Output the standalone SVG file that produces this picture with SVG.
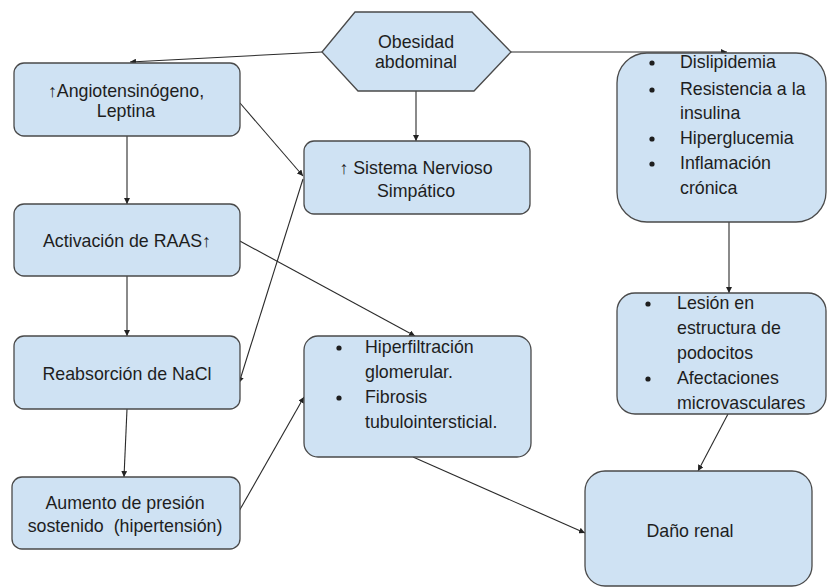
<svg xmlns="http://www.w3.org/2000/svg" width="827" height="588" viewBox="0 0 827 588">
  <defs>
    <marker id="ah" viewBox="0 0 10 10" refX="10" refY="5" markerWidth="6" markerHeight="6" markerUnits="userSpaceOnUse" orient="auto">
      <path d="M0,0 L10,5 L0,10 z" fill="#222"/>
    </marker>
    <style>
      .box { fill: #cfe2f3; stroke: #4a4a4a; stroke-width: 1.3; }
      .t { font-family: "Liberation Sans", Arial, sans-serif; font-size: 17.8px; fill: #1e1e1e; }
      .c { text-anchor: middle; }
      .b { fill: #1e1e1e; }
      .cn line { stroke: #2a2a2a; stroke-width: 1.1; marker-end: url(#ah); }
    </style>
  </defs>
  <rect width="827" height="588" fill="#ffffff"/>

  <g id="connectors" class="cn">
    <line x1="322" y1="52" x2="130" y2="62"/>
    <line x1="511" y1="52" x2="727" y2="52"/>
    <line x1="416" y1="91" x2="416" y2="141"/>
    <line x1="240" y1="103" x2="303" y2="176"/>
    <line x1="127" y1="136" x2="127" y2="204"/>
    <line x1="303" y1="179" x2="239" y2="383"/>
    <line x1="238" y1="240" x2="415" y2="336"/>
    <line x1="127" y1="276" x2="127" y2="336"/>
    <line x1="127" y1="409" x2="124" y2="477"/>
    <line x1="238" y1="513" x2="304" y2="397"/>
    <line x1="413" y1="457" x2="585" y2="533"/>
    <line x1="729" y1="222" x2="729" y2="293"/>
    <line x1="728" y1="414" x2="698" y2="471"/>
  </g>

  <g id="obesidad">
    <polygon class="box" points="322,52 355,12 472,12 511,52 474,91 358,91"/>
    <text class="t c" x="416" y="48">Obesidad</text>
    <text class="t c" x="416" y="68">abdominal</text>
  </g>

  <g id="angiotensinogeno">
    <rect class="box" x="14" y="63" width="226" height="73" rx="10"/>
    <text class="t c" x="126" y="97">↑Angiotensinógeno,</text>
    <text class="t c" x="126" y="117">Leptina</text>
  </g>

  <g id="simpatico">
    <rect class="box" x="304" y="141" width="226" height="73" rx="10"/>
    <text class="t c" x="416" y="174">↑ Sistema Nervioso</text>
    <text class="t c" x="416" y="197">Simpático</text>
  </g>

  <g id="raas">
    <rect class="box" x="14" y="204" width="226" height="72" rx="10"/>
    <text class="t c" x="127" y="247">Activación de RAAS↑</text>
  </g>

  <g id="nacl">
    <rect class="box" x="14" y="336" width="226" height="73" rx="10"/>
    <text class="t c" x="127" y="380">Reabsorción de NaCl</text>
  </g>

  <g id="hipertension">
    <rect class="box" x="12" y="477" width="228" height="72" rx="10"/>
    <text class="t c" x="125" y="509">Aumento de presión</text>
    <text class="t c" x="125" y="532" xml:space="preserve">sostenido  (hipertensión)</text>
  </g>

  <g id="hiperfiltracion">
    <rect class="box" x="304" y="336" width="227" height="121" rx="14"/>
    <circle class="b" cx="339" cy="348" r="2.6"/>
    <circle class="b" cx="339" cy="398" r="2.6"/>
    <text class="t" x="365" y="353">Hiperfiltración</text>
    <text class="t" x="365" y="378">glomerular.</text>
    <text class="t" x="365" y="403">Fibrosis</text>
    <text class="t" x="365" y="428">tubulointersticial.</text>
  </g>

  <g id="dislipidemia">
    <rect class="box" x="617" y="53" width="209" height="169" rx="30"/>
    <circle class="b" cx="652" cy="63" r="2.6"/>
    <circle class="b" cx="652" cy="90" r="2.6"/>
    <circle class="b" cx="652" cy="139" r="2.6"/>
    <circle class="b" cx="652" cy="164" r="2.6"/>
    <text class="t" x="680" y="68">Dislipidemia</text>
    <text class="t" x="680" y="95">Resistencia a la</text>
    <text class="t" x="680" y="119">insulina</text>
    <text class="t" x="680" y="144">Hiperglucemia</text>
    <text class="t" x="680" y="169">Inflamación</text>
    <text class="t" x="680" y="194">crónica</text>
  </g>

  <g id="lesion">
    <rect class="box" x="617" y="293" width="209" height="121" rx="18"/>
    <circle class="b" cx="648" cy="304" r="2.6"/>
    <circle class="b" cx="648" cy="379" r="2.6"/>
    <text class="t" x="677" y="309">Lesión en</text>
    <text class="t" x="677" y="334">estructura de</text>
    <text class="t" x="677" y="359">podocitos</text>
    <text class="t" x="677" y="384">Afectaciones</text>
    <text class="t" x="677" y="409">microvasculares</text>
  </g>

  <g id="dano">
    <rect class="box" x="585" y="471" width="227" height="115" rx="20"/>
    <text class="t c" x="690" y="537">Daño renal</text>
  </g>
</svg>
